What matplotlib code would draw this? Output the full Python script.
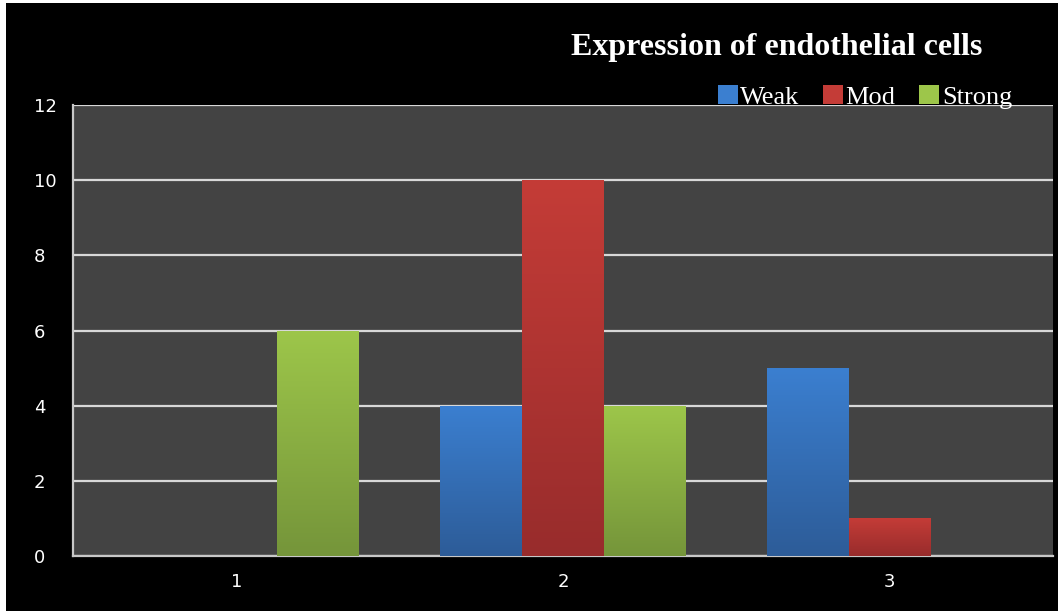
import matplotlib
matplotlib.use("Agg")
import matplotlib.pyplot as plt
from matplotlib.patches import Rectangle, Patch
import numpy as np

categories = ["1", "2", "3"]
series_names = ["Weak", "Mod", "Strong"]
weak = [0, 4, 5]
mod = [0, 10, 1]
strong = [6, 4, 0]
y_ticks = [0, 2, 4, 6, 8, 10, 12]

# (top colour, bottom colour) for the gradient look
colours = [("#3b7fd0", "#2d5c98"), ("#c43c37", "#982c2c"), ("#9dc64a", "#75953a")]

fig = plt.figure(figsize=(10.58, 6.11), dpi=100, facecolor="white")
# black card with a thin white edge on the left and top
fig.patches.append(Rectangle((6 / 1058, 0), 1, 1 - 3 / 611, transform=fig.transFigure,
                             facecolor="black", edgecolor="none", zorder=-10))

ax = fig.add_axes([73 / 1058, 55 / 611, 980 / 1058, 451 / 611])
ax.set_facecolor("#434343")

x = np.arange(1, len(categories) + 1)
width = 0.25
grad = np.linspace(0, 1, 256).reshape(-1, 1)

for i, (vals, (c_top, c_bot)) in enumerate(zip([weak, mod, strong], colours)):
    cmap = matplotlib.colors.LinearSegmentedColormap.from_list("g%d" % i, [c_bot, c_top])
    bars = ax.bar(x + (i - 1) * width, vals, width, color=c_top, zorder=3, linewidth=0)
    for b in bars:
        h = b.get_height()
        if h <= 0:
            continue
        im = ax.imshow(grad, cmap=cmap, origin="lower", aspect="auto", zorder=3.5,
                       extent=[b.get_x(), b.get_x() + b.get_width(), 0, h])
        im.set_clip_path(b)

ax.set_xlim(0.5, 3.5)
ax.set_ylim(0, 12)
ax.set_yticks(y_ticks)
ax.set_xticks(x)
ax.set_xticklabels(categories)
ax.yaxis.grid(True, color="#d8d8d8", linewidth=1.6, zorder=1)
ax.set_axisbelow(True)
ax.tick_params(colors="white", labelsize=13, length=0, pad=0)
ax.tick_params(axis="y", pad=28)
ax.tick_params(axis="x", pad=12)
for lbl in ax.get_yticklabels():
    lbl.set_horizontalalignment("left")
for s in ["right", "top"]:
    ax.spines[s].set_visible(False)
for s in ["left", "bottom"]:
    ax.spines[s].set_color("#c8c8c8")
    ax.spines[s].set_linewidth(1.6)

fig.text(777 / 1058, 1 - 47 / 611, "Expression of endothelial cells", color="white",
         fontsize=23, fontweight="bold", family="Liberation Serif", ha="center", va="center")

handles = [Patch(facecolor=c[0], edgecolor="none") for c in colours]
leg = fig.legend(handles, series_names, loc="center", bbox_to_anchor=(865 / 1058, 1 - 97 / 611),
                 ncol=3, frameon=False, prop={"family": "Liberation Serif", "size": 19},
                 handlelength=0.75, handleheight=0.75, handletextpad=0.1, columnspacing=0.9,
                 borderpad=0)
for t in leg.get_texts():
    t.set_color("white")

fig.savefig("out.png", dpi=100, facecolor="white")
